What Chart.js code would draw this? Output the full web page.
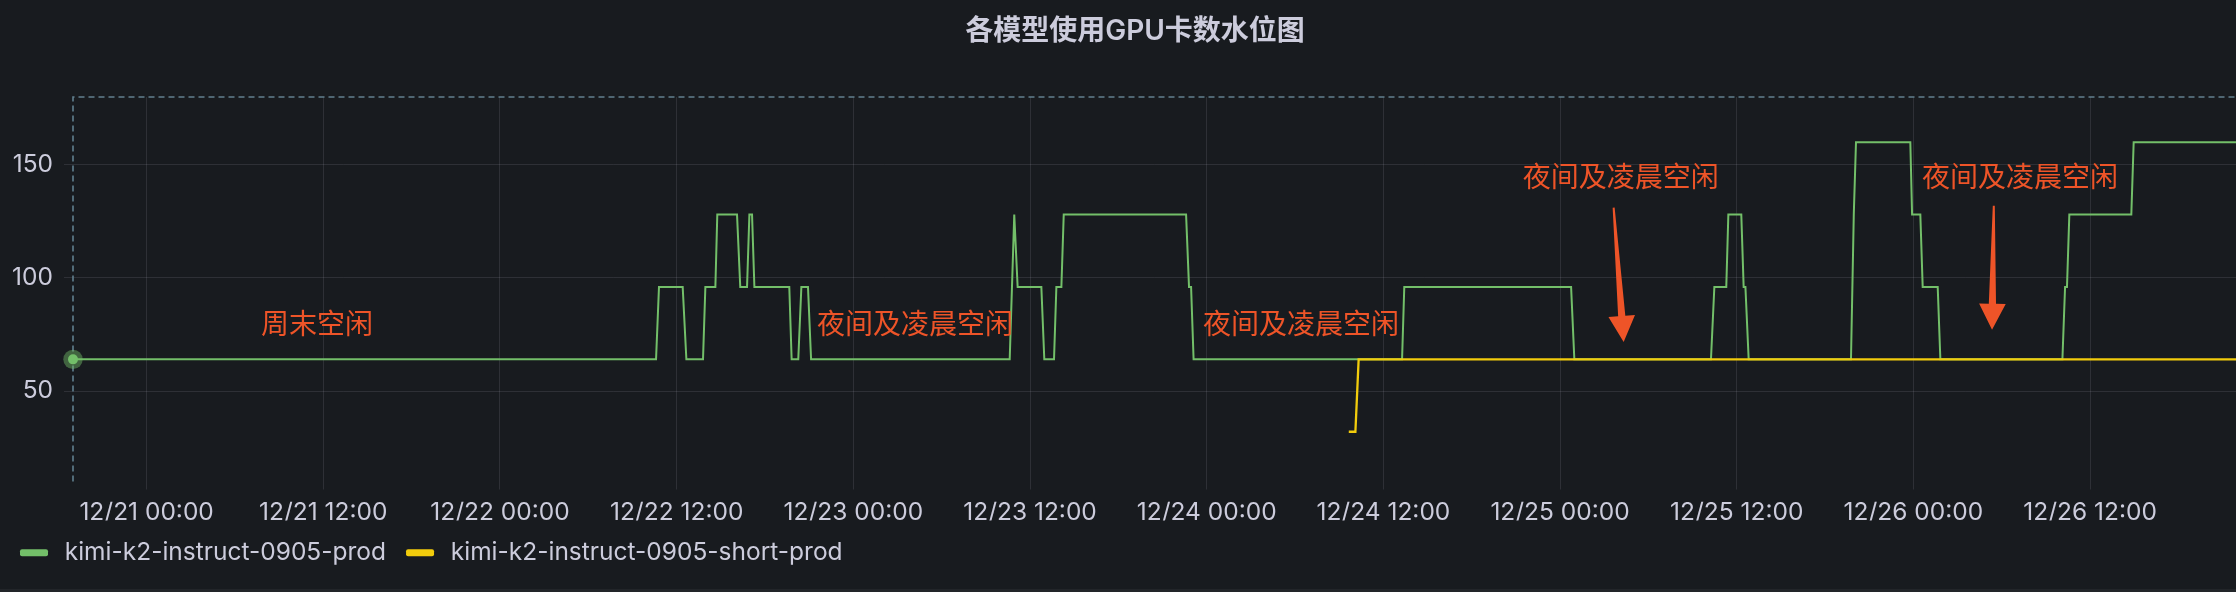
<!DOCTYPE html>
<html><head><meta charset="utf-8">
<style>html,body{margin:0;padding:0;background:#181b1f;overflow:hidden}canvas{display:block}</style>
<script src="https://cdn.jsdelivr.net/npm/chart.js@4.4.1/dist/chart.umd.min.js"></script>
</head><body>
<canvas id="c" width="2236" height="592"></canvas>
<script>
const chartTitle = '各模型使用GPU卡数水位图';
const seriesNames = ['kimi-k2-instruct-0905-prod', 'kimi-k2-instruct-0905-short-prod'];
// x values are hours counted from 12/21 00:00
const prodHours = [-5, 34.60, 34.80, 36.41, 36.66, 37.79, 37.95, 38.63, 38.76, 40.10, 40.32, 40.78, 40.94, 41.12, 41.28, 43.65, 43.81, 44.26, 44.47, 44.92, 45.13, 58.62, 58.93, 59.16, 60.77, 60.97, 61.63, 61.79, 62.13, 62.29, 70.60, 70.80, 70.94, 71.11, 85.27, 85.42, 96.75, 96.97, 106.25, 106.48, 107.29, 107.43, 108.31, 108.47, 108.59, 108.81, 115.76, 115.95, 116.10, 119.79, 119.91, 120.47, 120.63, 121.65, 121.83, 130.12, 130.30, 130.43, 130.59, 134.80, 134.96, 141.91];
const prodValues = [64, 64, 96, 96, 64, 64, 96, 96, 128, 128, 96, 96, 128, 128, 96, 96, 64, 64, 96, 96, 64, 64, 128, 96, 96, 64, 64, 96, 96, 128, 128, 96, 96, 64, 64, 96, 96, 64, 64, 96, 96, 128, 128, 96, 96, 64, 64, 128, 160, 160, 128, 128, 96, 96, 64, 64, 96, 96, 128, 128, 160, 160];
const shortHours = [81.65, 82.10, 82.32, 141.91];
const shortValues = [32, 32, 64, 64];
const xTickHours = [0, 12, 24, 36, 48, 60, 72, 84, 96, 108, 120, 132];
const xTickLabels = ['12/21 00:00', '12/21 12:00', '12/22 00:00', '12/22 12:00', '12/23 00:00', '12/23 12:00', '12/24 00:00', '12/24 12:00', '12/25 00:00', '12/25 12:00', '12/26 00:00', '12/26 12:00'];
const yTickValues = [50, 100, 150];
// annotations (anchored in data space)
const noteTexts = ['周末空闲', '夜间及凌晨空闲', '夜间及凌晨空闲', '夜间及凌晨空闲', '夜间及凌晨空闲'];
const noteHours = [7.77, 45.53, 71.75, 93.46, 120.59];
const noteValues = [79.8, 79.8, 79.8, 144.7, 144.7];
const arrowStartHours = [99.64, 125.46];
const arrowStartValues = [131.1, 131.9];
const arrowEndHours = [100.32, 125.34];
const arrowEndValues = [71.7, 77.1];

const GREEN = '#73BF69', YELLOW = '#F2CC0C', TEXT = '#ccccdc', NOTE = '#ee5428';
const GRID = 'rgba(204,204,220,0.12)';

function drawArrow(ctx, x0, y0, x1, y1) {
  const dx = x1 - x0, dy = y1 - y0, len = Math.hypot(dx, dy);
  const ux = dx / len, uy = dy / len, nx = -uy, ny = ux;
  const headLen = 26, headHalf = 13.3, tailHalf = 1.0, neckHalf = 3.6;
  const bx = x1 - ux * headLen, by = y1 - uy * headLen;
  ctx.beginPath();
  ctx.moveTo(x0 + nx * tailHalf, y0 + ny * tailHalf);
  ctx.lineTo(bx + nx * neckHalf, by + ny * neckHalf);
  ctx.lineTo(bx + nx * headHalf, by + ny * headHalf);
  ctx.lineTo(x1, y1);
  ctx.lineTo(bx - nx * headHalf, by - ny * headHalf);
  ctx.lineTo(bx - nx * neckHalf, by - ny * neckHalf);
  ctx.lineTo(x0 - nx * tailHalf, y0 - ny * tailHalf);
  ctx.closePath();
  ctx.fill();
}

const decor = {
  id: 'decor',
  beforeDraw(chart) {
    const c = chart.ctx;
    c.save();
    c.fillStyle = '#181b1f';
    c.fillRect(0, 0, chart.width, chart.height);
    c.fillStyle = '#222529';
    c.fillRect(0, chart.height - 3, chart.width, 3);
    c.restore();
  },
  afterDatasetsDraw(chart) {
    const {ctx, chartArea: a, scales: {x, y}} = chart;
    const p0 = chart.getDatasetMeta(0).data[0];
    ctx.save();
    // crosshair
    ctx.strokeStyle = '#61808f';
    ctx.lineWidth = 1.6;
    ctx.setLineDash([6, 4]);
    ctx.beginPath();
    ctx.moveTo(p0.x, a.bottom); ctx.lineTo(p0.x, a.top); ctx.lineTo(a.right, a.top);
    ctx.stroke();
    ctx.setLineDash([]);
    // hover point
    ctx.fillStyle = 'rgba(115,191,105,0.45)';
    ctx.beginPath(); ctx.arc(p0.x, p0.y, 9.7, 0, Math.PI * 2); ctx.fill();
    ctx.fillStyle = GREEN;
    ctx.beginPath(); ctx.arc(p0.x, p0.y, 5, 0, Math.PI * 2); ctx.fill();
    // notes
    ctx.fillStyle = NOTE;
    ctx.font = '28px "Noto Sans CJK SC"';
    ctx.textAlign = 'left';
    ctx.textBaseline = 'middle';
    noteTexts.forEach((t, i) => ctx.fillText(t, x.getPixelForValue(noteHours[i]), y.getPixelForValue(noteValues[i])));
    arrowStartHours.forEach((h, i) => drawArrow(ctx,
      x.getPixelForValue(h), y.getPixelForValue(arrowStartValues[i]),
      x.getPixelForValue(arrowEndHours[i]), y.getPixelForValue(arrowEndValues[i])));
    // title
    ctx.fillStyle = TEXT;
    ctx.font = '600 28px Inter, "Noto Sans CJK SC"';
    ctx.textAlign = 'center';
    ctx.fillText(chartTitle, 1135, 32);
    ctx.restore();
  }
};

const toPoints = (hs, vs) => hs.map((h, i) => ({x: h, y: vs[i]}));

new Chart(document.getElementById('c'), {
  type: 'line',
  data: {
    datasets: [
      {label: seriesNames[0], data: toPoints(prodHours, prodValues), borderColor: GREEN, backgroundColor: GREEN, borderWidth: 2, pointRadius: 0, tension: 0, order: 1},
      {label: seriesNames[1], data: toPoints(shortHours, shortValues), borderColor: YELLOW, backgroundColor: YELLOW, borderWidth: 2.3, pointRadius: 0, tension: 0, order: 0}
    ]
  },
  options: {
    responsive: false,
    animation: false,
    devicePixelRatio: 1,
    layout: {padding: {left: 0, right: 0, top: 97, bottom: 17}},
    plugins: {
      tooltip: {enabled: false},
      title: {display: false},
      legend: {
        position: 'bottom',
        align: 'start',
        labels: {
          color: TEXT,
          font: {family: 'Inter', size: 24.5},
          boxWidth: 28,
          boxHeight: 7,
          padding: 20,
          useBorderRadius: true,
          borderRadius: 2,
          sort: (a, b) => a.datasetIndex - b.datasetIndex,
          generateLabels: (chart) => Chart.defaults.plugins.legend.labels.generateLabels(chart)
            .map(l => Object.assign(l, {lineWidth: 0, text: '\u2009' + l.text}))
        }
      }
    },
    scales: {
      x: {
        type: 'linear',
        min: -5,
        max: 141.91,
        afterBuildTicks: (s) => { s.ticks = xTickHours.map(v => ({value: v})); },
        afterFit: (s) => { s.height = 39; },
        grid: {color: GRID, tickLength: 8, drawTicks: true},
        border: {display: false},
        ticks: {
          color: TEXT, font: {family: 'Inter', size: 24.5}, padding: 8,
          autoSkip: false, maxRotation: 0,
          callback: (v) => xTickLabels[xTickHours.indexOf(v)]
        }
      },
      y: {
        min: 10,
        max: 180,
        afterBuildTicks: (s) => { s.ticks = yTickValues.map(v => ({value: v})); },
        afterFit: (s) => { s.width = 73; },
        grid: {color: GRID, tickLength: 9, drawTicks: true},
        border: {display: false},
        ticks: {color: TEXT, font: {family: 'Inter', size: 24.5}, padding: 11}
      }
    }
  },
  plugins: [decor]
});
</script>
</body></html>
